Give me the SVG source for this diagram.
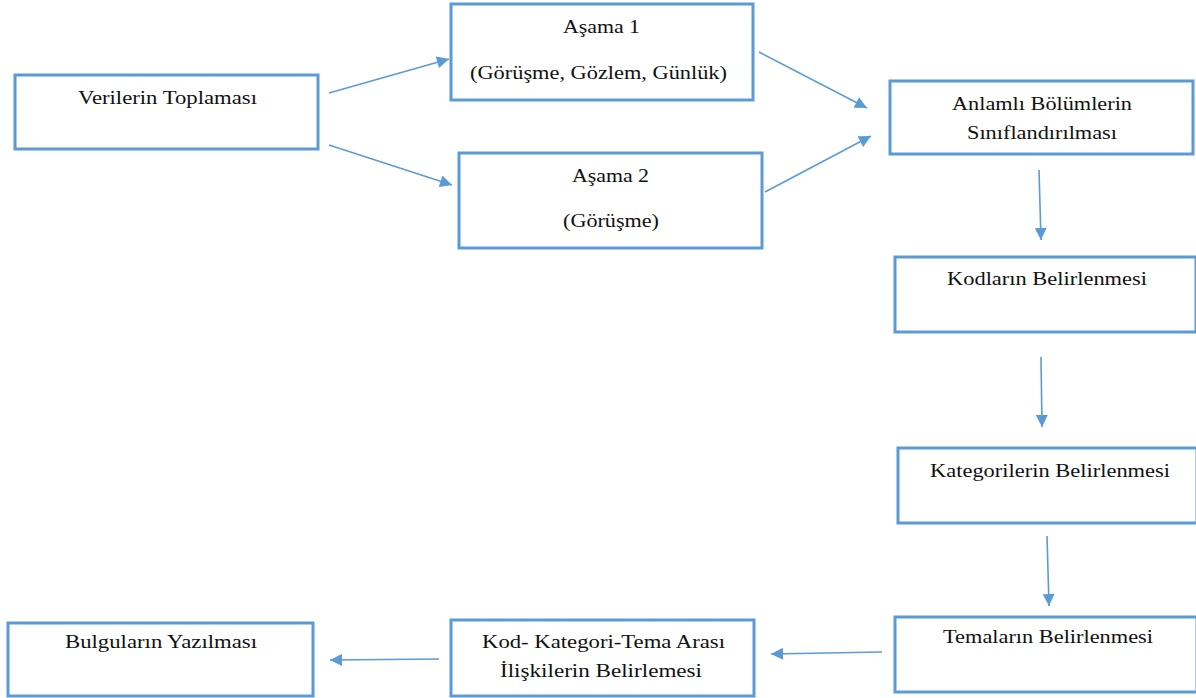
<svg xmlns="http://www.w3.org/2000/svg" width="1196" height="698" viewBox="0 0 1196 698">
<style>
.box{fill:#fff;stroke:#5B9BD5;stroke-width:3}
.t{font-family:"Liberation Serif","Times New Roman","DejaVu Serif",serif;font-size:18px;fill:#111;text-anchor:middle}
.c{stroke:#5B9BD5;stroke-width:1.6;fill:none;marker-end:url(#ah)}
</style>
<defs>
<marker id="ah" viewBox="0 0 10 10" refX="10" refY="5" markerWidth="13" markerHeight="12" markerUnits="userSpaceOnUse" orient="auto">
<path d="M0,0 L10,5 L0,10 z" fill="#5B9BD5"/>
</marker>
</defs>
<rect width="1196" height="698" fill="#fff"/>
<g id="connectors">
<line class="c" x1="329" y1="93" x2="449" y2="59"/>
<line class="c" x1="329" y1="145" x2="452" y2="185"/>
<line class="c" x1="759" y1="52" x2="867" y2="108"/>
<line class="c" x1="765" y1="192" x2="871" y2="136"/>
<line class="c" x1="1039" y1="170" x2="1041" y2="240"/>
<line class="c" x1="1041" y1="357" x2="1042" y2="427"/>
<line class="c" x1="1047" y1="536" x2="1049" y2="606"/>
<line class="c" x1="882" y1="652" x2="771" y2="654"/>
<line class="c" x1="439" y1="659" x2="330" y2="660"/>
</g>
<g id="n1"><rect class="box" x="15" y="75" width="303" height="74"/>
<text class="t" x="167.5" y="104" textLength="179" lengthAdjust="spacingAndGlyphs">Verilerin Toplaması</text></g>
<g id="n2"><rect class="box" x="451" y="4" width="302" height="96"/>
<text class="t" x="601.5" y="33" textLength="77" lengthAdjust="spacingAndGlyphs">Aşama 1</text>
<text class="t" x="598.5" y="79" textLength="257" lengthAdjust="spacingAndGlyphs">(Görüşme, Gözlem, Günlük)</text></g>
<g id="n3"><rect class="box" x="459" y="153" width="303" height="95"/>
<text class="t" x="610.5" y="182" textLength="77" lengthAdjust="spacingAndGlyphs">Aşama 2</text>
<text class="t" x="611" y="227" textLength="96" lengthAdjust="spacingAndGlyphs">(Görüşme)</text></g>
<g id="n4"><rect class="box" x="890" y="81" width="303" height="73"/>
<text class="t" x="1042" y="110" textLength="180" lengthAdjust="spacingAndGlyphs">Anlamlı Bölümlerin</text>
<text class="t" x="1042" y="139" textLength="150" lengthAdjust="spacingAndGlyphs">Sınıflandırılması</text></g>
<g id="n5"><rect class="box" x="895" y="257" width="301" height="75"/>
<text class="t" x="1047" y="285" textLength="200" lengthAdjust="spacingAndGlyphs">Kodların Belirlenmesi</text></g>
<g id="n6"><rect class="box" x="898" y="448" width="299" height="75"/>
<text class="t" x="1050" y="477" textLength="240" lengthAdjust="spacingAndGlyphs">Kategorilerin Belirlenmesi</text></g>
<g id="n7"><rect class="box" x="895" y="617" width="302" height="75"/>
<text class="t" x="1048" y="643" textLength="210" lengthAdjust="spacingAndGlyphs">Temaların Belirlenmesi</text></g>
<g id="n8"><rect class="box" x="451" y="620" width="303" height="76"/>
<text class="t" x="603.5" y="648" textLength="243" lengthAdjust="spacingAndGlyphs">Kod- Kategori-Tema Arası</text>
<text class="t" x="601" y="677" textLength="202" lengthAdjust="spacingAndGlyphs">İlişkilerin Belirlemesi</text></g>
<g id="n9"><rect class="box" x="8" y="623" width="305" height="73"/>
<text class="t" x="161" y="648" textLength="192" lengthAdjust="spacingAndGlyphs">Bulguların Yazılması</text></g>
</svg>
